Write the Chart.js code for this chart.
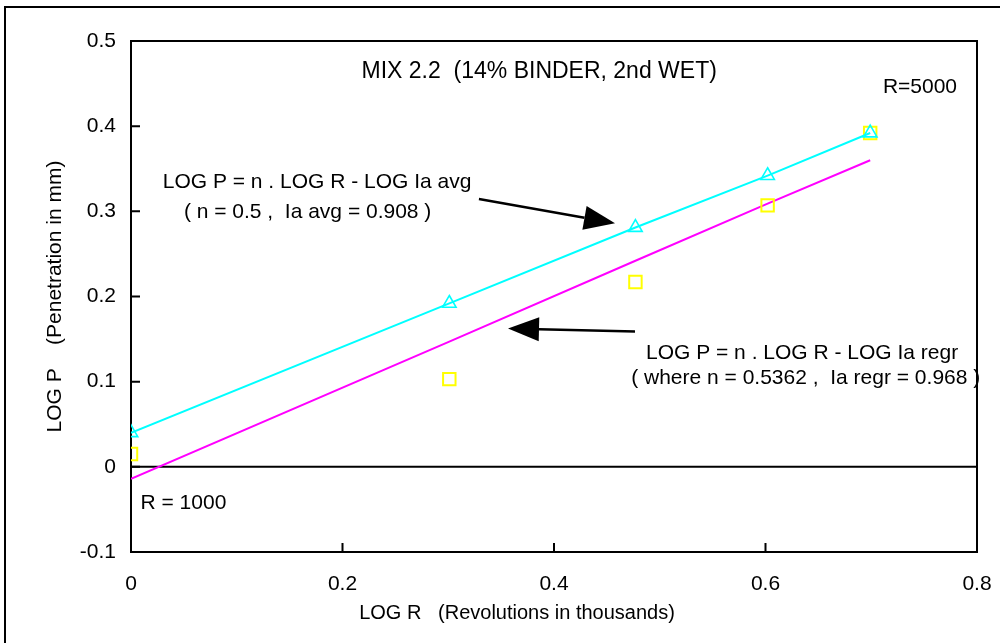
<!DOCTYPE html>
<html>
<head>
<meta charset="utf-8">
<title>MIX 2.2 (14% BINDER, 2nd WET)</title>
<script src="https://cdn.jsdelivr.net/npm/chart.js@4.4.1/dist/chart.umd.min.js"></script>
<style>
  html, body { margin: 0; padding: 0; background: #fff; }
</style>
</head>
<body>
<canvas id="chart" width="1000" height="643"></canvas>
<script>
// LOG R (thousands of revolutions): R = 1000, 2000, 3000, 4000, 5000
const logR = [0, 0.301, 0.477, 0.602, 0.699];
// LOG P with Ia avg (triangles + cyan line)
const avgP = [0.040, 0.192, 0.281, 0.342, 0.392];
// measured LOG P (squares)
const measuredP = [0.015, 0.103, 0.217, 0.307, 0.392];
// LOG P with Ia regr (magenta line)
const regrP = [-0.014, 0.147, 0.242, 0.309, 0.360];

const xTicks = [0, 0.2, 0.4, 0.6, 0.8];
const yTicks = [-0.1, 0, 0.1, 0.2, 0.3, 0.4, 0.5];

const FONT = '"Liberation Sans", Arial, sans-serif';
Chart.defaults.font.family = FONT;
Chart.defaults.font.size = 21;
Chart.defaults.color = '#000';

const toPoints = ys => logR.map((x, i) => ({ x: x, y: ys[i] }));

function arrow(ctx, x1, y1, x2, y2) {
    const ang = Math.atan2(y2 - y1, x2 - x1);
    const len = 31, half = 12;
    const bx = x2 - len * Math.cos(ang), by = y2 - len * Math.sin(ang);
    ctx.beginPath();
    ctx.moveTo(x1, y1);
    ctx.lineTo(bx, by);
    ctx.stroke();
    ctx.beginPath();
    ctx.moveTo(x2, y2);
    ctx.lineTo(bx + half * Math.sin(ang), by - half * Math.cos(ang));
    ctx.lineTo(bx - half * Math.sin(ang), by + half * Math.cos(ang));
    ctx.closePath();
    ctx.fill();
}

const frame = {
    id: 'frame',
    beforeDatasetsDraw(chart) {
        const { ctx, chartArea: a, scales: { x, y } } = chart;
        ctx.save();
        ctx.strokeStyle = '#000';
        ctx.lineWidth = 2;
        ctx.beginPath();
        ctx.moveTo(5, chart.height);
        ctx.lineTo(5, 7);
        ctx.lineTo(chart.width, 7);
        ctx.stroke();

        ctx.strokeRect(a.left, a.top, a.right - a.left, a.bottom - a.top);

        ctx.beginPath();
        yTicks.forEach(v => {
            const py = y.getPixelForValue(v);
            ctx.moveTo(a.left, py);
            ctx.lineTo(a.left + 9, py);
        });
        xTicks.forEach(v => {
            const px = x.getPixelForValue(v);
            ctx.moveTo(px, a.bottom);
            ctx.lineTo(px, a.bottom - 9);
        });
        ctx.stroke();

        // zero line
        const y0 = y.getPixelForValue(0);
        ctx.beginPath();
        ctx.moveTo(a.left, y0);
        ctx.lineTo(a.right, y0);
        ctx.stroke();
        ctx.restore();
    },
    afterDraw(chart) {
        const { ctx, scales: { x, y } } = chart;
        const X = v => x.getPixelForValue(v);
        const Y = v => y.getPixelForValue(v);
        ctx.save();
        ctx.fillStyle = '#000';
        ctx.strokeStyle = '#000';
        ctx.textBaseline = 'middle';

        ctx.textAlign = 'center';
        ctx.font = '23px ' + FONT;
        ctx.fillText('MIX 2.2  (14% BINDER, 2nd WET)', X(0.386), Y(0.4635));
        ctx.font = '20px ' + FONT;
        ctx.fillText('LOG R   (Revolutions in thousands)', X(0.365), 613);

        ctx.textAlign = 'left';
        ctx.font = '21px ' + FONT;
        ctx.fillText('R=5000', X(0.711), Y(0.446));
        ctx.fillText('R = 1000', X(0.009), Y(-0.0427));
        ctx.fillText('LOG P = n . LOG R - LOG Ia avg', X(0.03), Y(0.3345));
        ctx.fillText('( n = 0.5 ,  Ia avg = 0.908 )', X(0.05), Y(0.299));
        ctx.fillText('LOG P = n . LOG R - LOG Ia regr', X(0.487), Y(0.1337));
        ctx.fillText('( where n = 0.5362 ,  Ia regr = 0.968 )', X(0.473), Y(0.1043));

        ctx.lineWidth = 2.5;
        arrow(ctx, X(0.329), Y(0.3145), X(0.4577), Y(0.286));
        arrow(ctx, X(0.4766), Y(0.1588), X(0.3565), Y(0.1624));
        ctx.restore();
    }
};

new Chart(document.getElementById('chart'), {
    type: 'scatter',
    data: {
        datasets: [
            {
                label: 'Ia avg',
                data: toPoints(avgP),
                showLine: true,
                borderColor: '#00FFFF',
                backgroundColor: 'transparent',
                borderWidth: 2,
                pointStyle: 'triangle',
                pointRadius: 7.8,
                pointBorderWidth: 1.6,
                order: 0
            },
            {
                label: 'measured',
                data: toPoints(measuredP),
                showLine: false,
                borderColor: '#FFFF00',
                backgroundColor: 'transparent',
                pointStyle: 'rect',
                pointRadius: 8.8,
                pointBorderWidth: 2,
                order: 1
            },
            {
                label: 'Ia regr',
                data: toPoints(regrP),
                showLine: true,
                borderColor: '#FF00FF',
                borderWidth: 2,
                pointRadius: 0,
                order: 2
            }
        ]
    },
    options: {
        responsive: false,
        animation: false,
        layout: { padding: { top: 41, right: 23, left: 0, bottom: 0 } },
        plugins: { legend: { display: false }, tooltip: { enabled: false } },
        scales: {
            x: {
                type: 'linear',
                min: 0, max: 0.8,
                afterFit: s => { s.height = 91; s.paddingRight = 0; s.paddingLeft = 0; },
                afterBuildTicks: s => { s.ticks = xTicks.map(v => ({ value: v })); },
                grid: { display: false },
                border: { display: false },
                ticks: { padding: 12, maxRotation: 0 }
            },
            y: {
                type: 'linear',
                min: -0.1, max: 0.5,
                afterFit: s => { s.width = 131; },
                afterBuildTicks: s => { s.ticks = yTicks.map(v => ({ value: v })); },
                grid: { display: false },
                border: { display: false },
                ticks: { padding: 7 },
                title: { display: true, text: 'LOG P    (Penetration in mm)', padding: { top: 43, bottom: 0 } }
            }
        }
    },
    plugins: [frame]
});
</script>
</body>
</html>
